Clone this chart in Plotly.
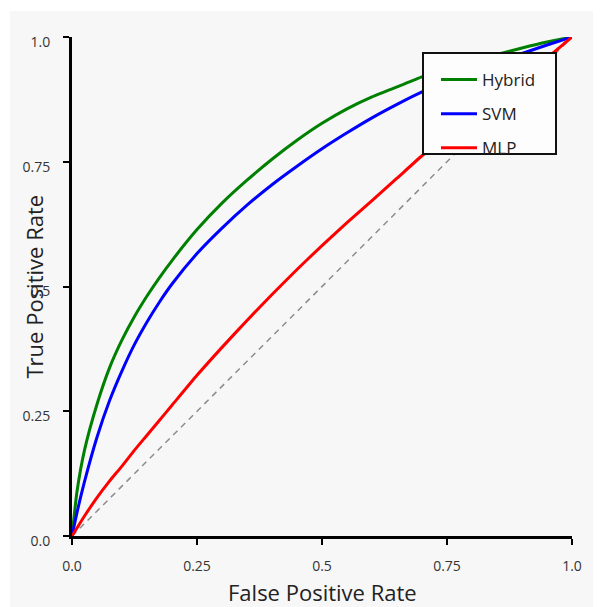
import plotly.graph_objects as go

fpr = [0, 0.01, 0.025, 0.05, 0.075, 0.1, 0.125, 0.15, 0.175, 0.2,
       0.25, 0.3, 0.35, 0.4, 0.45, 0.5, 0.55, 0.6, 0.65, 0.7, 0.75, 0.8, 0.85, 0.9, 0.95, 1.0]
hybrid_tpr = [0, 0.089, 0.172, 0.264, 0.337, 0.393, 0.44, 0.481, 0.518, 0.552,
              0.614, 0.667, 0.713, 0.755, 0.793, 0.827, 0.856, 0.88, 0.90, 0.92, 0.936, 0.952, 0.965, 0.978, 0.99, 1.0]
svm_tpr = [0, 0.047, 0.109, 0.198, 0.271, 0.331, 0.384, 0.429, 0.469, 0.505,
           0.566, 0.617, 0.663, 0.704, 0.741, 0.776, 0.808, 0.838, 0.865, 0.89, 0.91, 0.93, 0.95, 0.967, 0.984, 1.0]
mlp_tpr = [0, 0.016, 0.04, 0.077, 0.11, 0.14, 0.172, 0.202, 0.232, 0.262,
           0.322, 0.378, 0.432, 0.484, 0.534, 0.582, 0.628, 0.672, 0.717, 0.762, 0.803, 0.843, 0.882, 0.92, 0.958, 1.0]
chance = [0, 1]
tick_vals = [0, 0.25, 0.5, 0.75, 1.0]
tick_text = ["0.0", "0.25", "0.5", "0.75", "1.0"]

OFF = 8  # page body margin
W, H = 601 - OFF, 607 - OFF
# plot area in page pixels: x 72..572, y 37..536
L, R, T, B = 72 - OFF, 601 - 572, 37 - OFF, 607 - 536
pw, ph = W - L - R, H - T - B


def px(x):
    return (x - OFF - L) / pw


def py(y):
    return (H - B - (y - OFF)) / ph


fig = go.Figure()
fig.add_trace(go.Scatter(x=chance, y=chance, mode="lines", showlegend=False,
                         line=dict(color="#8c8c8c", width=1.5, dash="6px,5px")))
fig.add_trace(go.Scatter(x=fpr, y=hybrid_tpr, mode="lines", name="Hybrid", legendgroup="a",
                         line=dict(color="#008000", width=3, shape="spline", smoothing=0.5)))
fig.add_trace(go.Scatter(x=fpr, y=svm_tpr, mode="lines", name="SVM", legendgroup="b",
                         line=dict(color="#0000ff", width=3, shape="spline", smoothing=0.5)))
fig.add_trace(go.Scatter(x=fpr, y=mlp_tpr, mode="lines", name="MLP", legendgroup="c",
                         line=dict(color="#ff0000", width=3, shape="spline", smoothing=0.5)))

font = "Open Sans, Noto Sans, sans-serif"
axis_common = dict(range=[0, 1], tickvals=tick_vals, ticktext=tick_text, showgrid=False,
                   zeroline=False, showline=True, linecolor="black", linewidth=3,
                   ticks="outside", ticklen=6, tickwidth=2, tickcolor="black",
                   tickfont=dict(family=font, size=14, color="#333333"))

fig.update_layout(
    width=W, height=H,
    margin=dict(l=L, r=R, t=T, b=B),
    paper_bgcolor="#f7f7f7", plot_bgcolor="#f7f7f7",
    xaxis=dict(**axis_common, ticklabelstandoff=9),
    yaxis=dict(**axis_common, ticklabelstandoff=10, ticklabelshift=5),
    showlegend=True,
    legend=dict(x=px(436), y=py(62), xanchor="left", yanchor="top",
                bgcolor="rgba(0,0,0,0)", borderwidth=0,
                font=dict(family=font, size=17, color="#222222"),
                traceorder="grouped", tracegroupgap=9, itemwidth=36),
    shapes=[
        dict(type="rect", xref="paper", yref="paper", x0=px(0), x1=px(10), y0=py(615), y1=py(0),
             fillcolor="white", line=dict(width=0), layer="below"),
        dict(type="rect", xref="paper", yref="paper", x0=px(0), x1=px(610), y0=py(11), y1=py(0),
             fillcolor="white", line=dict(width=0), layer="below"),
        dict(type="rect", xref="paper", yref="paper", x0=px(423), x1=px(556), y0=py(154), y1=py(53),
             fillcolor="#fdfdfd", line=dict(color="#111111", width=2), layer="above"),
    ],
    annotations=[
        dict(text="False Positive Rate", xref="paper", yref="paper", x=0.5, y=py(592),
             showarrow=False, xanchor="center", yanchor="middle",
             font=dict(family=font, size=22, color="#222222")),
        dict(text="True Positive Rate", xref="paper", yref="paper", x=px(33), y=0.5,
             showarrow=False, xanchor="center", yanchor="middle", textangle=-90,
             font=dict(family=font, size=22, color="#222222")),
    ],
)

fig.write_html("out.html")
